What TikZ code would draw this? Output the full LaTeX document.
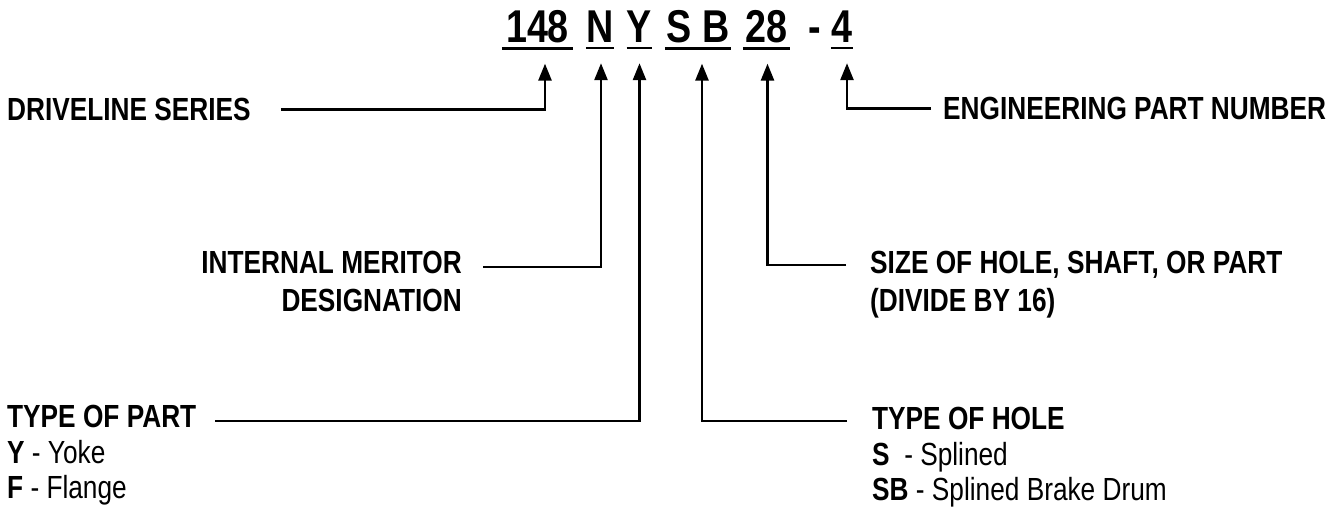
\documentclass[tikz,border=0pt]{standalone}
\usepackage{fontspec}
\setmainfont{Liberation Sans}[FakeStretch=0.82]
\usetikzlibrary{arrows.meta,positioning,calc}

\begin{document}
\begin{tikzpicture}[x=1pt,y=-1pt,>={Triangle[length=17pt,width=13pt]},
code/.style={font=\fontsize{46}{46}\selectfont\bfseries,anchor=base,inner xsep=0pt,inner ysep=5pt},
lab/.style={font=\fontsize{32}{38}\selectfont\bfseries,inner sep=0pt},
lablist/.style={lab,font=\fontsize{32}{35.5}\selectfont,align=left},
uline/.style={line width=2.4pt},
lead/.style={->,line width=2.6pt}]
\useasboundingbox (0,0) rectangle (1336,511);
% part number code
\node[code,minimum width=71pt] (c148) at (537.5,43) {148};
\node[code,minimum width=28pt] (cN) at (600,43) {N};
\node[code,minimum width=25pt] (cY) at (639.5,43) {Y};
\node[code,minimum width=66pt] (cSB) at (698,43) {S B};
\node[code,minimum width=47pt] (c28) at (766.5,43) {28};
\node[code] (cDash) at (815,43) {-};
\node[code,minimum width=22pt] (c4) at (842,43) {4};
\foreach \n in {c148,cN,cY,cSB,c28,c4}
  \draw[uline] (\n.south west)--(\n.south east);
% labels
\node[lab,anchor=north west] (lDrive) at (7,98) {DRIVELINE SERIES};
\node[lab,anchor=north west] (lEng) at (943,97) {ENGINEERING PART NUMBER};
\node[lab,anchor=north east,align=right] (lMer) at (462,251)
{INTERNAL MERITOR\\DESIGNATION};
\node[lab,anchor=north west,align=left] (lSize) at (870,251)
{SIZE OF HOLE, SHAFT, OR PART\\(DIVIDE BY 16)};
\node[lablist,anchor=north west] (lPart) at (7,405)
{\textbf{TYPE OF PART}\\\textbf{Y} - Yoke\\\textbf{F} - Flange};
\node[lablist,anchor=north west] (lHole) at (872,407)
{\textbf{TYPE OF HOLE}\\\textbf{S}\ \ - Splined\\\textbf{SB} - Splined Brake Drum};
% leaders
\draw[lead] ([xshift=30pt]lDrive.east) -| ([xshift=7.5pt,yshift=-15pt]c148.south);
\draw[lead] ([xshift=-12pt]lEng.west) -| ([xshift=5pt,yshift=-15pt]c4.south);
\draw[lead] ([xshift=21pt,yshift=-16pt]lMer.north east) -| ([xshift=1pt,yshift=-15pt]cN.south);
\draw[lead] ([xshift=-24pt,yshift=-14pt]lSize.north west) -| ([xshift=1pt,yshift=-15pt]c28.south);
\draw[lead] ([xshift=19pt,yshift=-16pt]lPart.north east) -| ([yshift=-15pt]cY.south);
\draw[lead] ([xshift=-25pt,yshift=-14pt]lHole.north west) -| ([xshift=4pt,yshift=-15pt]cSB.south);
\end{tikzpicture}
\end{document}
